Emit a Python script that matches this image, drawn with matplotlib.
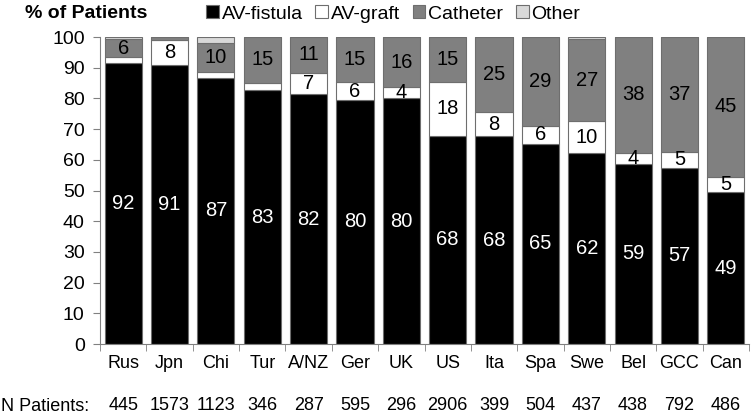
import matplotlib
matplotlib.use("Agg")
import matplotlib.pyplot as plt
import numpy as np

plt.rcParams['font.family'] = ['Liberation Sans', 'DejaVu Sans']

countries = ["Rus", "Jpn", "Chi", "Tur", "A/NZ", "Ger", "UK", "US", "Ita", "Spa", "Swe", "Bel", "GCC", "Can"]
n_patients = [445, 1573, 1123, 346, 287, 595, 296, 2906, 399, 504, 437, 438, 792, 486]
fistula = [91.6, 90.9, 86.7, 82.7, 81.3, 79.5, 80.0, 67.8, 67.6, 65.2, 62.3, 58.7, 57.4, 49.4]
graft = [2.0, 8.2, 1.8, 2.4, 7.1, 5.7, 3.7, 17.6, 7.9, 5.9, 10.2, 3.6, 5.2, 5.1]
catheter = [5.6, 0.8, 9.6, 14.9, 11.6, 14.8, 16.3, 14.6, 24.5, 28.9, 26.9, 37.7, 37.4, 45.5]
other = [0.8, 0.1, 1.9, 0.0, 0.0, 0.0, 0.0, 0.0, 0.0, 0.0, 0.6, 0.0, 0.0, 0.0]
fistula_labels = [92, 91, 87, 83, 82, 80, 80, 68, 68, 65, 62, 59, 57, 49]
graft_labels = [None, 8, None, None, 7, 6, 4, 18, 8, 6, 10, 4, 5, 5]
catheter_labels = [6, None, 10, 15, 11, 15, 16, 15, 25, 29, 27, 38, 37, 45]
yticks = [0, 10, 20, 30, 40, 50, 60, 70, 80, 90, 100]

fig = plt.figure(figsize=(7.53, 4.15), dpi=100)
ax = fig.add_axes([100/753, 1-344/415, 649/753, 307/415])

x = np.arange(len(countries))
w = 0.8
ec = "#6e6e6e"
f = np.array(fistula); g = np.array(graft); c = np.array(catheter); o = np.array(other)
ax.bar(x, f, w, color="black", edgecolor=ec, linewidth=0.8, label="AV-fistula")
ax.bar(x, g, w, bottom=f, color="white", edgecolor=ec, linewidth=0.8, label="AV-graft")
ax.bar(x, c, w, bottom=f+g, color="#808080", edgecolor=ec, linewidth=0.8, label="Catheter")
ax.bar(x, o, w, bottom=f+g+c, color="#d9d9d9", edgecolor=ec, linewidth=0.8, label="Other")

fs = 14.5
for i in range(len(countries)):
    ax.text(x[i], f[i]/2, str(fistula_labels[i]), color="white", ha="center", va="center", fontsize=fs)
    if graft_labels[i] is not None:
        ax.text(x[i], f[i]+g[i]/2, str(graft_labels[i]), color="black", ha="center", va="center", fontsize=fs)
    if catheter_labels[i] is not None:
        ax.text(x[i], f[i]+g[i]+c[i]/2, str(catheter_labels[i]), color="black", ha="center", va="center", fontsize=fs)

ax.set_xlim(-0.5, len(countries)-0.5)
ax.set_ylim(0, 100)
ax.set_yticks(yticks)
ax.set_yticklabels([str(v) for v in yticks], fontsize=14)
ax.set_xticks(x)
ax.set_xticklabels(countries, fontsize=13)
ax.tick_params(axis="x", length=0, pad=8)
ax.set_xticks(np.arange(len(countries)+1)-0.5, minor=True)
ax.tick_params(axis="x", which="minor", length=5, color="#808080", direction="out")
ax.tick_params(axis="y", length=5, color="#808080", pad=6)
for s in ["top", "right"]:
    ax.spines[s].set_visible(False)
for s in ["left", "bottom"]:
    ax.spines[s].set_color("#808080")

# N patients row
for i in range(len(countries)):
    ax.text(x[i], -0.2, str(n_patients[i]), transform=ax.get_xaxis_transform(), ha="center", va="center", fontsize=13)
fig.text(1/753, 1-406/415, "N Patients:", ha="left", va="center", fontsize=13)

fig.text(25/753, 1-14/415, "% of Patients", ha="left", va="center", fontsize=14, fontweight="bold")

leg = fig.legend(loc="center left", bbox_to_anchor=(206/753, 1-14/415), ncol=4, frameon=False,
                 fontsize=14, handlelength=0.65, handleheight=0.65, handletextpad=0.15, columnspacing=0.65,
                 borderpad=0, borderaxespad=0)

fig.savefig("out.png", dpi=100)
